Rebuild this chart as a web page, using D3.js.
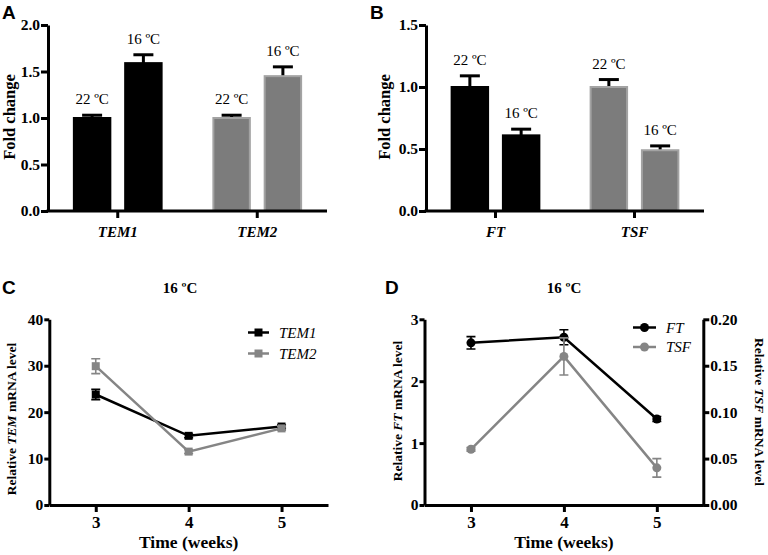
<!DOCTYPE html>
<html>
<head>
<meta charset="utf-8">
<script src="https://cdn.jsdelivr.net/npm/d3@7"></script>
<style>
  body { margin: 0; background: #fff; }
  svg { display: block; }
</style>
</head>
<body>
<script>
// donnees

var temps = ["22 ºC", "16 ºC"];

// panneau A
var genesA = ["TEM1", "TEM2"];
var meanA = [[1.00, 1.59], [1.00, 1.45]];
var errA = [[0.03, 0.09], [0.03, 0.10]];
var ticksA = [0, 0.5, 1.0, 1.5, 2.0];

// panneau B
var genesB = ["FT", "TSF"];
var meanB = [[1.00, 0.61], [1.00, 0.49]];
var errB = [[0.09, 0.05], [0.06, 0.035]];
var ticksB = [0, 0.5, 1.0, 1.5];

// panneau C
var weeks = [3, 4, 5];
var tem1 = [23.8, 14.9, 16.9];
var tem1Err = [1.1, 0.4, 0.4];
var tem2 = [29.9, 11.5, 16.5];
var tem2Err = [1.6, 0.4, 0.4];
var ticksC = [0, 10, 20, 30, 40];

// panneau D
var ft = [2.62, 2.71, 1.39];
var ftErr = [0.10, 0.12, 0.04];
var tsf = [0.06, 0.16, 0.04];
var tsfErr = [0.002, 0.02, 0.01];
var ticksD = [0, 1, 2, 3];
var ticksD2 = [0, 0.05, 0.10, 0.15, 0.20];

var w = 768;
var h = 555;
var serif = "'Liberation Serif', 'Times New Roman', serif";
var sans = "'Liberation Sans', Arial, sans-serif";
var grey = "#7c7c7c";
var greyLine = "#858585";

var svg = d3.select("body")
	.append("svg")
	.attr("width", w)
	.attr("height", h)
	.style("background", "#fff");

function styleAxis(g, fontSize) {
	g.select(".domain").attr("stroke", "#000").attr("stroke-width", 3);
	g.selectAll(".tick line").attr("stroke", "#000").attr("stroke-width", 3);
	g.selectAll(".tick text")
		.attr("fill", "#000")
		.style("font-family", serif)
		.style("font-weight", "bold")
		.style("font-size", fontSize + "px");
}

function panelLetter(t, x, y) {
	svg.append("text")
		.text(t)
		.attr("x", x)
		.attr("y", y)
		.style("font-family", sans)
		.style("font-weight", "bold")
		.style("font-size", "19px");
}

function yLabel(x, y, rot, size, parts) {
	var t = svg.append("text")
		.attr("transform", "translate(" + x + "," + y + ") rotate(" + rot + ")")
		.attr("text-anchor", "middle")
		.attr("dy", "0.35em")
		.style("font-family", serif)
		.style("font-weight", "bold")
		.style("font-size", size + "px");
	parts.forEach(function(p) {
		t.append("tspan").text(p[0]).style("font-style", p[1] ? "italic" : "normal");
	});
}

//graphique en barres (A et B)
function barPanel(genes, mean, err, ticks, x0, x1, yMax, fmt) {
	var y = d3.scaleLinear().domain([0, yMax]).range([211, 25]);
	var x = d3.scaleBand().domain(genes).range([x0, x1]);
	var inner = d3.scaleBand().domain(temps).range([-50, 50]).paddingInner(0.25).paddingOuter(0.1);
	var colors = ["#000", grey];

	var g = svg.append("g");

	genes.forEach(function(gene, i) {
		var cx = x(gene) + x.bandwidth() / 2;
		temps.forEach(function(tp, j) {
			var bx = cx + inner(tp);
			var bw = inner.bandwidth();
			var top = y(mean[i][j] + err[i][j]);
			var bc = bx + bw / 2;
			// barre d'erreur (seulement le haut)
			g.append("line")
				.attr("x1", bc).attr("x2", bc)
				.attr("y1", y(mean[i][j])).attr("y2", top)
				.attr("stroke", "#000").attr("stroke-width", 3);
			g.append("line")
				.attr("x1", bc - 10).attr("x2", bc + 10)
				.attr("y1", top).attr("y2", top)
				.attr("stroke", "#000").attr("stroke-width", 3);
			g.append("rect")
				.attr("x", bx + 1)
				.attr("y", y(mean[i][j]))
				.attr("width", bw - 2)
				.attr("height", y(0) - y(mean[i][j]))
				.style("fill", colors[i])
				.style("stroke", i == 0 ? "#000" : "#a3a3a3")
				.style("stroke-width", 2);
			g.append("text")
				.text(tp)
				.attr("x", bc)
				.attr("y", top - 11)
				.attr("text-anchor", "middle")
				.style("font-family", serif)
				.style("font-size", "15px");
		});
	});

	var yAxis = g.append("g")
		.attr("transform", "translate(" + x0 + ",0)")
		.call(d3.axisLeft(y).tickValues(ticks).tickFormat(d3.format(fmt)).tickSize(7).tickSizeOuter(0).tickPadding(1));
	styleAxis(yAxis, 15.5);

	var xAxis = g.append("g")
		.attr("transform", "translate(0," + y(0) + ")")
		.call(d3.axisBottom(x).tickSize(7).tickSizeOuter(0).tickPadding(8));
	styleAxis(xAxis, 15);
	xAxis.selectAll(".tick text").style("font-style", "italic");
	xAxis.select(".domain").attr("d", "M" + (x0 - 1.5) + ",0H" + x1);
}

//graphique en lignes (C et D)
function linePanel(x0, x1, series, legendPos) {
	var x = d3.scaleLinear().domain([2.5, 5.5]).range([x0, x1]);
	var g = svg.append("g");

	var xAxis = g.append("g")
		.attr("transform", "translate(0,505)")
		.call(d3.axisBottom(x).tickValues(weeks).tickFormat(d3.format("d")).tickSize(7).tickSizeOuter(0).tickPadding(4));
	styleAxis(xAxis, 17);

	g.append("text")
		.text("Time (weeks)")
		.attr("x", (x0 + x1) / 2)
		.attr("y", 548)
		.attr("text-anchor", "middle")
		.style("font-family", serif)
		.style("font-weight", "bold")
		.style("font-size", "17.5px");

	series.forEach(function(s) {
		var line = d3.line()
			.x(function(d, i) { return x(weeks[i]); })
			.y(function(d) { return s.y(d); });
		g.append("path")
			.datum(s.values)
			.attr("d", line)
			.attr("fill", "none")
			.attr("stroke", s.color)
			.attr("stroke-width", 2.5);
		s.values.forEach(function(v, i) {
			var cx = x(weeks[i]);
			var lo = s.y(v - s.err[i]), hi = s.y(v + s.err[i]);
			g.append("path")
				.attr("d", "M" + cx + "," + lo + "V" + hi + "M" + (cx - 4.5) + "," + lo + "H" + (cx + 4.5) + "M" + (cx - 4.5) + "," + hi + "H" + (cx + 4.5))
				.attr("stroke", s.color)
				.attr("stroke-width", 1.6)
				.attr("fill", "none");
		});
		g.selectAll(null)
			.data(s.values)
			.enter()
			.append(s.shape == "square" ? "rect" : "circle")
			.each(function(d, i) {
				var el = d3.select(this);
				if (s.shape == "square") {
					el.attr("x", x(weeks[i]) - 4).attr("y", s.y(d) - 4).attr("width", 8).attr("height", 8);
				} else {
					el.attr("cx", x(weeks[i])).attr("cy", s.y(d)).attr("r", 4.5);
				}
			})
			.style("fill", s.color);
	});

	// legende
	series.forEach(function(s, i) {
		var ly = legendPos.y + i * legendPos.dy;
		g.append("line")
			.attr("x1", legendPos.x).attr("x2", legendPos.x + legendPos.len)
			.attr("y1", ly).attr("y2", ly)
			.attr("stroke", s.color).attr("stroke-width", 2.5);
		var mx = legendPos.x + legendPos.len / 2;
		if (s.shape == "square") {
			g.append("rect").attr("x", mx - 4).attr("y", ly - 4).attr("width", 8).attr("height", 8).style("fill", s.color);
		} else {
			g.append("circle").attr("cx", mx).attr("cy", ly).attr("r", 4.5).style("fill", s.color);
		}
		g.append("text")
			.text(s.name)
			.attr("x", legendPos.x + legendPos.len + 10)
			.attr("y", ly)
			.attr("dy", "0.35em")
			.style("font-family", serif)
			.style("font-style", "italic")
			.style("font-size", "15px");
	});

	return g;
}

// A
panelLetter("A", 2, 19);
barPanel(genesA, meanA, errA, ticksA, 48, 327, 2.0, ".1f");
yLabel(9, 117, -90, 16.5, [["Fold change", false]]);

// B
panelLetter("B", 370, 19);
barPanel(genesB, meanB, errB, ticksB, 426, 704, 1.5, ".1f");
yLabel(384, 117, -90, 16.5, [["Fold change", false]]);

// C
panelLetter("C", 2, 294);
var yC = d3.scaleLinear().domain([0, 40]).range([505, 319.3]);
var gC = linePanel(49.3, 328, [
	{ name: "TEM1", values: tem1, err: tem1Err, y: yC, color: "#000", shape: "square" },
	{ name: "TEM2", values: tem2, err: tem2Err, y: yC, color: greyLine, shape: "square" }
], { x: 248, y: 332.5, dy: 21, len: 21 });
var axC = gC.append("g")
	.attr("transform", "translate(49.3,0)")
	.call(d3.axisLeft(yC).tickValues(ticksC).tickSize(5).tickSizeOuter(0).tickPadding(1));
styleAxis(axC, 15.5);
svg.append("text")
	.text("16 ºC")
	.attr("x", 180).attr("y", 293)
	.attr("text-anchor", "middle")
	.style("font-family", serif).style("font-weight", "bold").style("font-size", "15px");
yLabel(11, 419, -90, 13.5, [["Relative ", false], ["TEM", true], [" mRNA level", false]]);

// D
panelLetter("D", 385, 294);
var yD = d3.scaleLinear().domain([0, 3]).range([505, 319.3]);
var yD2 = d3.scaleLinear().domain([0, 0.2]).range([505, 319.3]);
var gD = linePanel(424.5, 703.3, [
	{ name: "FT", values: ft, err: ftErr, y: yD, color: "#000", shape: "circle" },
	{ name: "TSF", values: tsf, err: tsfErr, y: yD2, color: greyLine, shape: "circle" }
], { x: 633, y: 327.5, dy: 19.5, len: 23 });
var axD = gD.append("g")
	.attr("transform", "translate(424.5,0)")
	.call(d3.axisLeft(yD).tickValues(ticksD).tickFormat(d3.format("d")).tickSize(5).tickSizeOuter(0).tickPadding(1));
styleAxis(axD, 15.5);
var axD2 = gD.append("g")
	.attr("transform", "translate(703.3,0)")
	.call(d3.axisRight(yD2).tickValues(ticksD2).tickFormat(d3.format(".2f")).tickSize(6).tickSizeOuter(0).tickPadding(1));
styleAxis(axD2, 15.5);
svg.append("text")
	.text("16 ºC")
	.attr("x", 564).attr("y", 293)
	.attr("text-anchor", "middle")
	.style("font-family", serif).style("font-weight", "bold").style("font-size", "15px");
yLabel(397, 411, -90, 13.5, [["Relative ", false], ["FT", true], [" mRNA level", false]]);
yLabel(760, 412, 90, 13.5, [["Relative ", false], ["TSF", true], [" mRNA level", false]]);
</script>
</body>
</html>
